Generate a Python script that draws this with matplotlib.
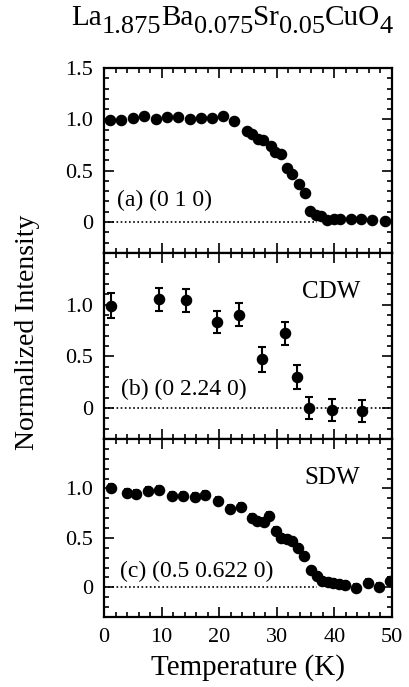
import matplotlib
matplotlib.use("Agg")
import matplotlib.pyplot as plt
from matplotlib.ticker import MultipleLocator

plt.rcParams['font.family'] = ['Liberation Serif', 'DejaVu Serif']

# (a) (0 1 0) lattice peak
t_a = [1, 3, 5, 7, 9, 10.9, 12.8, 15, 16.9, 18.7, 20.7, 22.6, 24.8, 25.6, 26.8, 27.6,
       29, 29.7, 30.7, 31.7, 32.7, 33.8, 34.9, 35.7, 36.8, 37.7, 38.7, 39.9, 40.9,
       42.9, 44.7, 46.6, 48.8]
i_a = [0.99, 0.99, 1.01, 1.03, 1.0, 1.02, 1.02, 1.0, 1.01, 1.01, 1.03, 0.98, 0.89, 0.86,
       0.81, 0.80, 0.74, 0.68, 0.66, 0.53, 0.47, 0.37, 0.28, 0.11, 0.07, 0.06, 0.02,
       0.03, 0.03, 0.03, 0.03, 0.02, 0.01]

# (b) CDW (0 2.24 0)
t_b = [1.2, 9.5, 14.3, 19.6, 23.5, 27.5, 31.5, 33.5, 35.6, 39.6, 44.8]
i_b = [0.99, 1.05, 1.04, 0.83, 0.90, 0.47, 0.72, 0.30, 0.0, -0.02, -0.03]
e_b = [0.12, 0.11, 0.11, 0.11, 0.11, 0.12, 0.11, 0.12, 0.11, 0.11, 0.11]

# (c) SDW (0.5 0.622 0)
t_c = [1.2, 3.9, 5.6, 7.7, 9.6, 11.8, 13.7, 15.7, 17.6, 19.8, 21.8, 23.7, 25.6, 26.6,
       27.7, 28.7, 29.9, 30.8, 31.7, 32.6, 33.6, 34.7, 35.9, 36.9, 37.9, 38.9, 39.8,
       40.8, 41.8, 43.7, 45.9, 47.8, 49.6]
i_c = [1.0, 0.95, 0.94, 0.97, 0.98, 0.92, 0.92, 0.91, 0.93, 0.87, 0.79, 0.81, 0.70, 0.67,
       0.66, 0.72, 0.57, 0.50, 0.49, 0.47, 0.40, 0.32, 0.17, 0.11, 0.06, 0.05, 0.04,
       0.03, 0.02, -0.01, 0.04, 0.0, 0.06]
e_c = [0.04] * len(t_c)

# title pieces: (text, is_subscript)
title_parts = [('La', False), ('1.875', True), ('Ba', False), ('0.075', True),
               ('Sr', False), ('0.05', True), ('CuO', False), ('4', True)]

fig = plt.figure(figsize=(4.1, 6.87), dpi=100)
left, width = 0.254, 0.702
ax_a = fig.add_axes([left, 0.632, width, 0.269])
ax_b = fig.add_axes([left, 0.361, width, 0.271])
ax_c = fig.add_axes([left, 0.102, width, 0.259])

fs = 16
for ax in (ax_a, ax_b, ax_c):
    ax.set_xlim(0, 50)
    ax.set_ylim(-0.3, 1.5)
    ax.xaxis.set_major_locator(MultipleLocator(10))
    ax.xaxis.set_minor_locator(MultipleLocator(2))
    ax.yaxis.set_minor_locator(MultipleLocator(0.1))
    ax.tick_params(which='both', direction='in', top=True, right=True, width=1.2,
                   labelsize=fs, pad=8)
    ax.tick_params(which='major', length=7)
    ax.tick_params(which='minor', length=3.5)
    for s in ax.spines.values():
        s.set_linewidth(1.6)

ax_a.set_yticks([0, 0.5, 1.0, 1.5])
ax_a.set_yticklabels(['0', '0.5', '1.0', '1.5'])
for ax in (ax_b, ax_c):
    ax.set_yticks([0, 0.5, 1.0])
    ax.set_yticklabels(['0', '0.5', '1.0'])
ax_a.tick_params(labelbottom=False)
ax_b.tick_params(labelbottom=False)
ax_c.set_xticks([0, 10, 20, 30, 40, 50])

# zero baselines
ax_a.hlines(0, 0, 37, colors='k', linestyles=(0, (1, 1.5)), lw=1.2, zorder=1)
ax_b.hlines(0, 0, 50, colors='k', linestyles=(0, (1, 1.5)), lw=1.2, zorder=1)
ax_c.hlines(0, 0, 37, colors='k', linestyles=(0, (1, 1.5)), lw=1.2, zorder=1)

ax_a.plot(t_a, i_a, 'o', color='k', ms=7.3, zorder=3)
ax_b.errorbar(t_b, i_b, yerr=e_b, fmt='o', color='k', ms=7.3, capsize=3,
              elinewidth=1.5, capthick=1.5, zorder=3)
ax_c.errorbar(t_c, i_c, yerr=e_c, fmt='o', color='k', ms=7.3, capsize=2,
              elinewidth=1.2, capthick=1.2, zorder=3)

ax_a.text(2.2, 0.21, '(a) (0 1 0)', fontsize=17, va='center')
ax_b.text(3.0, 0.18, '(b) (0 2.24 0)', fontsize=17, va='center')
ax_c.text(2.8, 0.16, '(c) (0.5 0.622 0)', fontsize=17, va='center')
ax_b.text(44.5, 1.12, 'CDW', fontsize=18, ha='right', va='center')
ax_c.text(44.5, 1.11, 'SDW', fontsize=18, ha='right', va='center')

# chemical formula title, built piece by piece
y_base = 1 - 25 / 687
prev = fig.text(71 / 410, y_base, title_parts[0][0], fontsize=21, va='baseline')
for txt, sub in title_parts[1:]:
    prev = ax_a.annotate(txt, xy=(1, y_base), xycoords=(prev, 'figure fraction'),
                         xytext=(0, -6 if sub else 0), textcoords='offset points',
                         fontsize=19 if sub else 21, va='baseline', ha='left',
                         annotation_clip=False)

fig.text(0.068, 0.517, 'Normalized Intensity', fontsize=20, rotation=90,
         ha='center', va='center')
fig.text(0.605, 0.028, 'Temperature (K)', fontsize=21, ha='center', va='center')

fig.savefig('out.png', dpi=100)
